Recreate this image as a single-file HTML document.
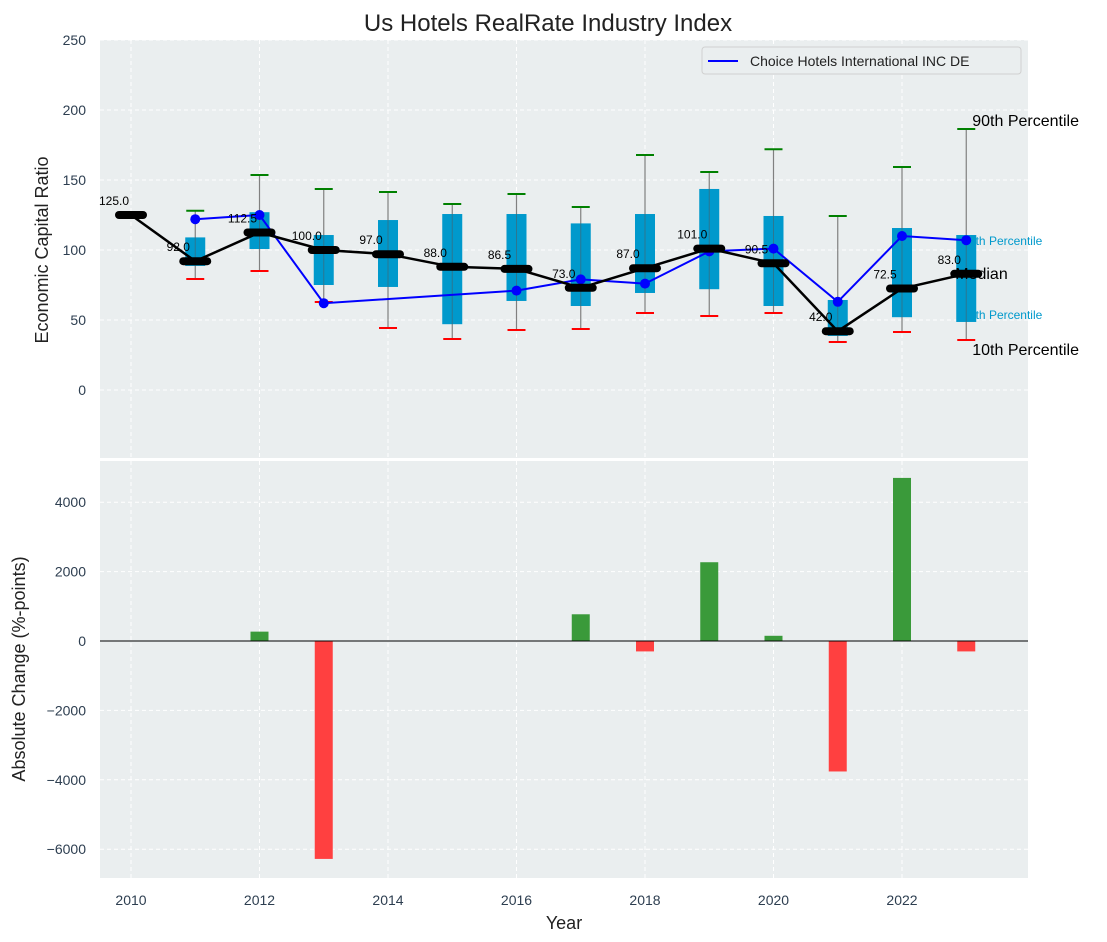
<!DOCTYPE html>
<html><head><meta charset="utf-8">
<style>
body{margin:0;background:#fff;}
svg{display:block;font-family:"Liberation Sans","DejaVu Sans",sans-serif;}
</style></head>
<body>
<svg id="chart" width="1107" height="942" viewBox="0 0 1107 942" xmlns="http://www.w3.org/2000/svg"></svg>
<script>
const years = [2010,2011,2012,2013,2014,2015,2016,2017,2018,2019,2020,2021,2022,2023];
const medians = [125,92,112.5,100,97,88,86.5,73,87,101,90.5,42,72.5,83];
const q75 = [null,109,127,110.7,121.4,125.7,125.7,119,125.7,143.6,124.3,64.3,115.7,110.7];
const q25 = [null,88.6,100.7,75,73.6,47,63.6,60,69.3,72,60,38.6,52,48.6];
const p90 = [null,128,153.6,143.6,141.4,132.9,140,130.7,167.9,155.7,172,124.3,159.3,186.4];
const p10 = [null,79.3,85,62.9,44.3,36.4,42.9,43.6,55,52.9,55,34.3,41.4,35.7];
const companyYears = [2011,2012,2013,2016,2017,2018,2019,2020,2021,2022,2023];
const companyVals = [122,125,62,71,79,76,99,101,63,110,107];
const barYears = [2012,2013,2017,2018,2019,2020,2021,2022,2023];
const barVals = [270,-6280,770,-300,2270,150,-3760,4700,-300];
const topTicks = [0,50,100,150,200,250];
const botTicks = [-6000,-4000,-2000,0,2000,4000];
const xTicks = [2010,2012,2014,2016,2018,2020,2022];

const NS="http://www.w3.org/2000/svg";
const svg=document.getElementById('chart');
function mk(tag,attrs,parent,text){const e=document.createElementNS(NS,tag);for(const k in attrs)e.setAttribute(k,attrs[k]);if(text!==undefined)e.textContent=text;(parent||svg).appendChild(e);return e;}

const L=100,R=1028,T1=40,B1=458,T2=461,B2=878;
const xs=y=>131+(y-2010)*64.25;
const y1=v=>390-v*1.4;
const y2=v=>641-v*0.0347;

let p=mk('rect',{x:L,y:T1,width:R-L,height:B1-T1,fill:'#eaeeef'});


p=mk('rect',{x:L,y:T2,width:R-L,height:B2-T2,fill:'#eaeeef'});



xTicks.forEach(t=>{
  mk('line',{x1:xs(t),x2:xs(t),y1:T1,y2:B1,stroke:'#fff','stroke-dasharray':'4,3','stroke-width':1});
  mk('line',{x1:xs(t),x2:xs(t),y1:T2,y2:B2,stroke:'#fff','stroke-dasharray':'4,3','stroke-width':1});
  const tl=mk('text',{x:xs(t),y:905,'text-anchor':'middle','font-size':14,fill:'#2d3e50'},null,t);
  
  
});
topTicks.forEach(t=>{
  mk('line',{x1:L,x2:R,y1:y1(t),y2:y1(t),stroke:'#fff','stroke-dasharray':'4,3','stroke-width':1});
  const tl=mk('text',{x:86,y:y1(t)+5,'text-anchor':'end','font-size':14,fill:'#2d3e50'},null,t);
  
  
});
botTicks.forEach(t=>{
  mk('line',{x1:L,x2:R,y1:y2(t),y2:y2(t),stroke:'#fff','stroke-dasharray':'4,3','stroke-width':1});
  const tl=mk('text',{x:86,y:y2(t)+5,'text-anchor':'end','font-size':14,fill:'#2d3e50'},null,t<0?'\u2212'+Math.abs(t):t);
  
  
});

const last=years.length-1, lx=xs(years[last]);
[['90th Percentile',p90[last],'#000',16,6,-3],['75th Percentile',q75[last],'#0099cc',12,-4,10],['25th Percentile',q25[last],'#0099cc',12,-4,-3],['10th Percentile',p10[last],'#000',16,6,15]].forEach(a=>{
  const t=mk('text',{x:lx+a[4],y:y1(a[1])+a[5],'font-size':a[3],fill:a[2]},null,a[0]);
  
  
});

years.forEach((yr,i)=>{
  if(q75[i]===null)return;
  const cx=xs(yr);
  const w=mk('line',{x1:cx,x2:cx,y1:y1(p90[i]),y2:y1(p10[i]),stroke:'#808080','stroke-width':1.2});
  
  
  const b=mk('rect',{x:cx-10,y:y1(q75[i]),width:20,height:y1(q25[i])-y1(q75[i]),fill:'#0099cc'});
  
  
  mk('line',{x1:cx,x2:cx,y1:y1(q75[i]),y2:y1(q25[i]),stroke:'#555','stroke-width':1,'stroke-opacity':0.5});
  const c1=mk('line',{x1:cx-9,x2:cx+9,y1:y1(p90[i]),y2:y1(p90[i]),stroke:'green','stroke-width':2});
  
  
  const c2=mk('line',{x1:cx-9,x2:cx+9,y1:y1(p10[i]),y2:y1(p10[i]),stroke:'red','stroke-width':2});
  
  
});

const cl=mk('polyline',{points:companyYears.map((y,i)=>xs(y)+','+y1(companyVals[i])).join(' '),fill:'none',stroke:'#0000ff','stroke-width':2});


companyYears.forEach((y,i)=>{
  const c=mk('circle',{cx:xs(y),cy:y1(companyVals[i]),r:5,fill:'#0000ff'});
  
  
});

const ml=mk('polyline',{points:years.map((y,i)=>xs(y)+','+y1(medians[i])).join(' '),fill:'none',stroke:'#000','stroke-width':2.5});


years.forEach((y,i)=>{
  const cx=xs(y),cy=y1(medians[i]);
  const m=mk('line',{x1:cx-12,x2:cx+12,y1:cy,y2:cy,stroke:'#000','stroke-width':8,'stroke-linecap':'round'});
  
  
  const t=mk('text',{x:cx-17,y:cy-10,'text-anchor':'middle','font-size':12,fill:'#000'},null,medians[i].toFixed(1));
  
  
});
const medLbl=mk('text',{x:lx-11,y:y1(medians[last])+5,'font-size':16,fill:'#000'},null,'Median');



barYears.forEach((y,i)=>{
  const v=barVals[i],cx=xs(y);
  const top=Math.min(y2(v),y2(0)),h=Math.abs(y2(v)-y2(0));
  const b=mk('rect',{x:cx-9,y:top,width:18,height:h,fill:v>=0?'#3a9a3a':'#ff4040'});
  
  
});
mk('line',{x1:L,x2:R,y1:y2(0),y2:y2(0),stroke:'#000','stroke-width':1});

const lg=mk('g',{});


mk('rect',{x:702,y:47,width:319,height:27,rx:3,fill:'#eaeeef',stroke:'#d0d0d0'},lg);
mk('line',{x1:708,x2:738,y1:61,y2:61,stroke:'#0000ff','stroke-width':2},lg);
mk('text',{x:750,y:66,'font-size':14,fill:'#222'},lg,'Choice Hotels International INC DE');

let t=mk('text',{x:548,y:31,'text-anchor':'middle','font-size':24,fill:'#222'},null,'Us Hotels RealRate Industry Index');


t=mk('text',{x:0,y:0,'text-anchor':'middle','font-size':18,fill:'#222',transform:'translate(48,250) rotate(-90)'},null,'Economic Capital Ratio');


t=mk('text',{x:0,y:0,'text-anchor':'middle','font-size':18,fill:'#222',transform:'translate(25,669) rotate(-90)'},null,'Absolute Change (%-points)');


t=mk('text',{x:564,y:929,'text-anchor':'middle','font-size':18,fill:'#222'},null,'Year');


</script>
</body></html>
